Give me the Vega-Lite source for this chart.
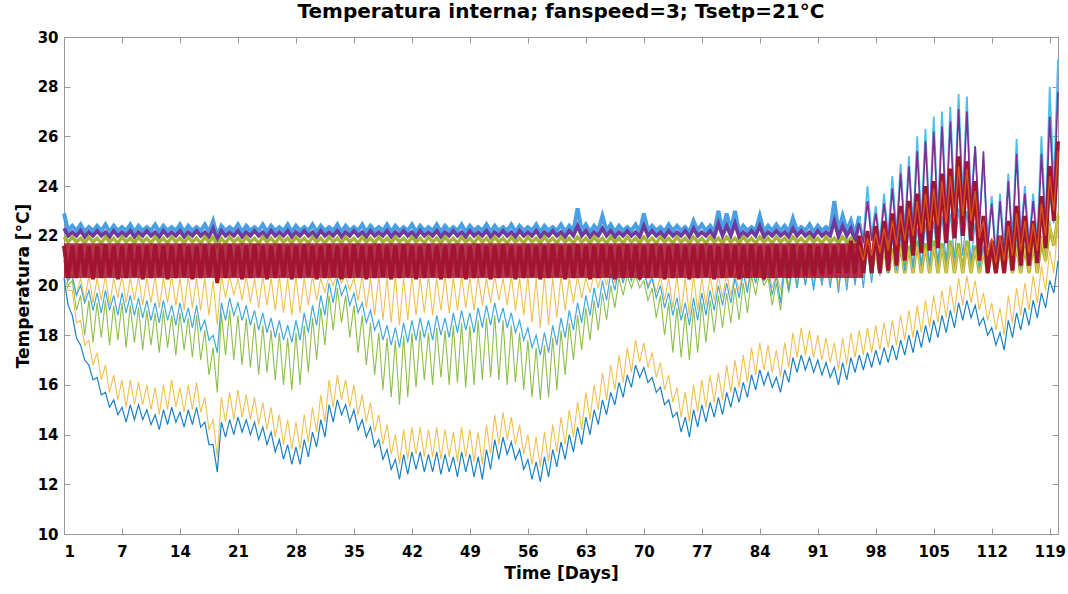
{
"$schema":"https://vega.github.io/schema/vega-lite/v6.json",
"width":994,"height":497,"autosize":"none",
"padding":{"left":64,"top":37,"right":10,"bottom":60},
"background":"white",
"title":{"text":"Temperatura interna; fanspeed=3; Tsetp=21°C","font":"DejaVu Sans","fontSize":20,"fontWeight":"bold","color":"black","offset":8},
"config":{"view":{"stroke":"#999","strokeWidth":1},"axis":{"grid":false,"domainColor":"#999","tickColor":"#999","tickSize":-6,"labelFont":"DejaVu Sans","labelFontSize":15,"labelFontWeight":"bold","labelColor":"black","titleFont":"DejaVu Sans","titleFontSize":17,"titleFontWeight":"bold","titleColor":"black"}},
"data":{"values":[
{"t":0,"c":22.9,"p":22.3,"g":21.95,"r":21.6,"y":21.0,"m":21.0,"n":21.0,"w":20.4,"b":20.3},
{"t":0.5,"c":22.2,"p":22.0,"g":21.75,"r":20.3,"y":20.3,"m":20.2,"n":20.0,"w":19.8,"b":19.2},
{"t":1,"c":22.4,"p":22.15,"g":21.95,"r":21.6,"y":20.4,"m":20.4,"n":20.2,"w":19.8,"b":18.8},
{"t":1.5,"c":22.2,"p":22.0,"g":21.75,"r":20.3,"y":19.6,"m":19.6,"n":19.0,"w":18.5,"b":17.9},
{"t":2,"c":22.45,"p":22.2,"g":21.9,"r":21.65,"y":20.3,"m":20.0,"n":19.6,"w":18.6,"b":17.6},
{"t":2.5,"c":22.15,"p":21.95,"g":21.7,"r":20.35,"y":19.4,"m":19.3,"n":18.0,"w":17.6,"b":17.0},
{"t":3,"c":22.35,"p":22.15,"g":21.95,"r":21.6,"y":20.4,"m":19.8,"n":19.4,"w":17.8,"b":16.8},
{"t":3.5,"c":22.2,"p":22.0,"g":21.75,"r":20.25,"y":19.3,"m":19.0,"n":17.7,"w":16.8,"b":16.2},
{"t":4,"c":22.4,"p":22.2,"g":21.9,"r":21.6,"y":20.3,"m":19.7,"n":19.3,"w":17.3,"b":16.3},
{"t":4.5,"c":22.2,"p":22.0,"g":21.7,"r":20.3,"y":19.4,"m":18.9,"n":17.9,"w":16.2,"b":15.6},
{"t":5,"c":22.45,"p":22.15,"g":21.95,"r":21.65,"y":20.4,"m":19.8,"n":19.4,"w":16.8,"b":15.7},
{"t":5.5,"c":22.15,"p":21.95,"g":21.75,"r":20.35,"y":19.2,"m":19.0,"n":17.6,"w":15.7,"b":15.1},
{"t":6,"c":22.4,"p":22.2,"g":21.9,"r":21.6,"y":20.3,"m":19.6,"n":19.2,"w":16.4,"b":15.4},
{"t":6.5,"c":22.2,"p":22.0,"g":21.7,"r":20.25,"y":19.5,"m":18.8,"n":17.8,"w":15.4,"b":14.8},
{"t":7,"c":22.35,"p":22.15,"g":21.95,"r":21.6,"y":20.4,"m":19.7,"n":19.3,"w":16.2,"b":15.1},
{"t":7.5,"c":22.2,"p":22.0,"g":21.75,"r":20.3,"y":19.3,"m":18.9,"n":17.5,"w":15.1,"b":14.5},
{"t":8,"c":22.45,"p":22.2,"g":21.9,"r":21.65,"y":20.3,"m":19.6,"n":19.2,"w":16.2,"b":15.2},
{"t":8.5,"c":22.15,"p":21.95,"g":21.7,"r":20.35,"y":19.4,"m":18.8,"n":17.7,"w":15.2,"b":14.6},
{"t":9,"c":22.4,"p":22.15,"g":21.95,"r":21.6,"y":20.4,"m":19.5,"n":19.1,"w":16.1,"b":15.2},
{"t":9.5,"c":22.2,"p":22.0,"g":21.75,"r":20.25,"y":19.2,"m":18.7,"n":17.4,"w":15.2,"b":14.6},
{"t":10,"c":22.35,"p":22.2,"g":21.9,"r":21.6,"y":20.3,"m":19.4,"n":19.0,"w":16.0,"b":15.0},
{"t":10.5,"c":22.2,"p":22.0,"g":21.7,"r":20.3,"y":19.3,"m":18.6,"n":17.6,"w":15.0,"b":14.4},
{"t":11,"c":22.45,"p":22.15,"g":21.95,"r":21.65,"y":20.4,"m":19.3,"n":18.9,"w":15.9,"b":14.8},
{"t":11.5,"c":22.15,"p":21.95,"g":21.75,"r":20.35,"y":19.1,"m":18.5,"n":17.3,"w":14.8,"b":14.2},
{"t":12,"c":22.4,"p":22.2,"g":21.9,"r":21.6,"y":20.3,"m":19.4,"n":19.0,"w":16.0,"b":15.0},
{"t":12.5,"c":22.2,"p":22.0,"g":21.7,"r":20.25,"y":19.3,"m":18.6,"n":17.5,"w":15.0,"b":14.4},
{"t":13,"c":22.35,"p":22.15,"g":21.95,"r":21.6,"y":20.4,"m":19.2,"n":18.8,"w":16.2,"b":15.1},
{"t":13.5,"c":22.2,"p":22.0,"g":21.75,"r":20.3,"y":19.2,"m":18.4,"n":17.2,"w":15.1,"b":14.5},
{"t":14,"c":22.45,"p":22.2,"g":21.9,"r":21.65,"y":20.3,"m":19.3,"n":18.9,"w":15.9,"b":14.9},
{"t":14.5,"c":22.15,"p":21.95,"g":21.7,"r":20.35,"y":19.0,"m":18.5,"n":17.4,"w":14.9,"b":14.3},
{"t":15,"c":22.4,"p":22.15,"g":21.95,"r":21.6,"y":20.4,"m":19.1,"n":18.7,"w":16.0,"b":15.0},
{"t":15.5,"c":22.2,"p":22.0,"g":21.75,"r":20.25,"y":19.1,"m":18.3,"n":17.1,"w":15.0,"b":14.4},
{"t":16,"c":22.35,"p":22.2,"g":21.9,"r":21.6,"y":20.3,"m":19.2,"n":18.8,"w":16.1,"b":15.1},
{"t":16.5,"c":22.2,"p":22.0,"g":21.7,"r":20.3,"y":19.0,"m":18.2,"n":17.0,"w":14.9,"b":14.3},
{"t":17,"c":22.45,"p":22.15,"g":21.95,"r":21.65,"y":20.3,"m":18.6,"n":18.2,"w":15.5,"b":14.5},
{"t":17.5,"c":22.15,"p":21.95,"g":21.75,"r":20.35,"y":18.8,"m":17.8,"n":16.4,"w":14.2,"b":13.6},
{"t":18,"c":22.6,"p":22.3,"g":21.95,"r":21.6,"y":20.2,"m":18.0,"n":17.5,"w":14.6,"b":13.6},
{"t":18.5,"c":22.0,"p":21.85,"g":21.6,"r":20.1,"y":18.4,"m":17.3,"n":15.7,"w":13.1,"b":12.5},
{"t":19,"c":22.4,"p":22.2,"g":21.9,"r":21.6,"y":20.4,"m":19.3,"n":18.9,"w":15.5,"b":14.5},
{"t":19.5,"c":22.2,"p":22.0,"g":21.7,"r":20.3,"y":19.5,"m":18.6,"n":17.2,"w":14.5,"b":13.9},
{"t":20,"c":22.35,"p":22.15,"g":21.95,"r":21.65,"y":20.4,"m":19.5,"n":19.0,"w":15.7,"b":14.6},
{"t":20.5,"c":22.2,"p":22.0,"g":21.75,"r":20.35,"y":19.6,"m":18.8,"n":17.0,"w":14.6,"b":14.0},
{"t":21,"c":22.45,"p":22.2,"g":21.9,"r":21.6,"y":20.3,"m":19.3,"n":18.8,"w":15.8,"b":14.7},
{"t":21.5,"c":22.15,"p":21.95,"g":21.7,"r":20.25,"y":19.4,"m":18.6,"n":16.8,"w":14.7,"b":14.1},
{"t":22,"c":22.4,"p":22.15,"g":21.95,"r":21.6,"y":20.4,"m":19.2,"n":18.7,"w":15.6,"b":14.6},
{"t":22.5,"c":22.2,"p":22.0,"g":21.75,"r":20.3,"y":19.3,"m":18.4,"n":16.7,"w":14.6,"b":14.0},
{"t":23,"c":22.35,"p":22.2,"g":21.9,"r":21.65,"y":20.3,"m":19.0,"n":18.5,"w":15.5,"b":14.5},
{"t":23.5,"c":22.2,"p":22.0,"g":21.7,"r":20.35,"y":19.1,"m":18.2,"n":16.4,"w":14.4,"b":13.8},
{"t":24,"c":22.45,"p":22.15,"g":21.95,"r":21.6,"y":20.4,"m":18.9,"n":18.4,"w":15.3,"b":14.3},
{"t":24.5,"c":22.15,"p":21.95,"g":21.75,"r":20.25,"y":19.2,"m":18.1,"n":16.5,"w":14.2,"b":13.6},
{"t":25,"c":22.4,"p":22.2,"g":21.9,"r":21.6,"y":20.3,"m":18.7,"n":18.2,"w":15.1,"b":14.1},
{"t":25.5,"c":22.2,"p":22.0,"g":21.7,"r":20.3,"y":19.0,"m":17.9,"n":16.2,"w":13.9,"b":13.3},
{"t":26,"c":22.35,"p":22.15,"g":21.95,"r":21.65,"y":20.4,"m":18.6,"n":18.1,"w":14.8,"b":13.8},
{"t":26.5,"c":22.2,"p":22.0,"g":21.75,"r":20.35,"y":18.9,"m":17.8,"n":16.0,"w":13.6,"b":13.0},
{"t":27,"c":22.45,"p":22.2,"g":21.9,"r":21.6,"y":20.3,"m":18.4,"n":17.9,"w":14.6,"b":13.6},
{"t":27.5,"c":22.15,"p":21.95,"g":21.7,"r":20.25,"y":18.8,"m":17.7,"n":15.8,"w":13.4,"b":12.8},
{"t":28,"c":22.4,"p":22.15,"g":21.95,"r":21.6,"y":20.4,"m":18.6,"n":18.1,"w":14.5,"b":13.5},
{"t":28.5,"c":22.2,"p":22.0,"g":21.75,"r":20.3,"y":18.9,"m":17.8,"n":16.0,"w":13.4,"b":12.8},
{"t":29,"c":22.35,"p":22.2,"g":21.9,"r":21.65,"y":20.3,"m":18.9,"n":18.4,"w":14.8,"b":13.8},
{"t":29.5,"c":22.2,"p":22.0,"g":21.7,"r":20.35,"y":19.2,"m":18.1,"n":16.5,"w":13.7,"b":13.1},
{"t":30,"c":22.45,"p":22.15,"g":21.95,"r":21.6,"y":20.4,"m":19.2,"n":18.7,"w":15.1,"b":14.1},
{"t":30.5,"c":22.15,"p":21.95,"g":21.75,"r":20.25,"y":19.4,"m":18.4,"n":17.0,"w":14.1,"b":13.5},
{"t":31,"c":22.4,"p":22.2,"g":21.9,"r":21.6,"y":20.3,"m":19.6,"n":19.1,"w":15.6,"b":14.6},
{"t":31.5,"c":22.2,"p":22.0,"g":21.7,"r":20.3,"y":19.7,"m":18.8,"n":17.6,"w":14.5,"b":13.9},
{"t":32,"c":22.35,"p":22.15,"g":21.95,"r":21.65,"y":20.4,"m":20.1,"n":19.6,"w":16.2,"b":15.2},
{"t":32.5,"c":22.2,"p":22.0,"g":21.75,"r":20.35,"y":20.0,"m":19.3,"n":18.2,"w":15.1,"b":14.5},
{"t":33,"c":22.45,"p":22.2,"g":21.9,"r":21.6,"y":20.5,"m":20.3,"n":19.9,"w":16.4,"b":15.4},
{"t":33.5,"c":22.15,"p":21.95,"g":21.7,"r":20.25,"y":20.1,"m":19.6,"n":18.5,"w":15.4,"b":14.8},
{"t":34,"c":22.4,"p":22.15,"g":21.95,"r":21.6,"y":20.4,"m":20.0,"n":19.6,"w":16.2,"b":15.2},
{"t":34.5,"c":22.2,"p":22.0,"g":21.75,"r":20.3,"y":19.8,"m":19.2,"n":17.9,"w":15.1,"b":14.5},
{"t":35,"c":22.35,"p":22.2,"g":21.9,"r":21.65,"y":20.3,"m":19.7,"n":19.2,"w":16.0,"b":15.0},
{"t":35.5,"c":22.2,"p":22.0,"g":21.7,"r":20.35,"y":19.4,"m":18.9,"n":17.3,"w":14.8,"b":14.2},
{"t":36,"c":22.45,"p":22.15,"g":21.95,"r":21.6,"y":20.4,"m":19.3,"n":18.8,"w":15.6,"b":14.6},
{"t":36.5,"c":22.15,"p":21.95,"g":21.75,"r":20.25,"y":19.1,"m":18.5,"n":16.8,"w":14.5,"b":13.9},
{"t":37,"c":22.4,"p":22.2,"g":21.9,"r":21.6,"y":20.3,"m":19.0,"n":18.5,"w":15.3,"b":14.3},
{"t":37.5,"c":22.2,"p":22.0,"g":21.7,"r":20.3,"y":18.8,"m":18.2,"n":16.4,"w":14.1,"b":13.5},
{"t":38,"c":22.35,"p":22.15,"g":21.95,"r":21.65,"y":20.4,"m":18.6,"n":18.1,"w":14.8,"b":13.8},
{"t":38.5,"c":22.2,"p":22.0,"g":21.75,"r":20.35,"y":18.6,"m":17.8,"n":15.8,"w":13.6,"b":13.0},
{"t":39,"c":22.45,"p":22.2,"g":21.9,"r":21.6,"y":20.3,"m":18.4,"n":17.9,"w":14.4,"b":13.4},
{"t":39.5,"c":22.15,"p":21.95,"g":21.7,"r":20.25,"y":18.5,"m":17.6,"n":15.5,"w":13.2,"b":12.6},
{"t":40,"c":22.4,"p":22.15,"g":21.95,"r":21.6,"y":20.4,"m":18.3,"n":17.8,"w":14.0,"b":13.0},
{"t":40.5,"c":22.2,"p":22.0,"g":21.75,"r":20.3,"y":18.4,"m":17.5,"n":15.2,"w":12.8,"b":12.2},
{"t":41,"c":22.35,"p":22.2,"g":21.9,"r":21.65,"y":20.3,"m":18.5,"n":18.0,"w":14.2,"b":13.2},
{"t":41.5,"c":22.2,"p":22.0,"g":21.7,"r":20.35,"y":18.6,"m":17.7,"n":15.5,"w":13.0,"b":12.4},
{"t":42,"c":22.45,"p":22.15,"g":21.95,"r":21.6,"y":20.4,"m":18.6,"n":18.1,"w":14.3,"b":13.3},
{"t":42.5,"c":22.15,"p":21.95,"g":21.75,"r":20.25,"y":18.8,"m":17.8,"n":15.9,"w":13.2,"b":12.6},
{"t":43,"c":22.4,"p":22.2,"g":21.9,"r":21.6,"y":20.3,"m":18.7,"n":18.2,"w":14.3,"b":13.3},
{"t":43.5,"c":22.2,"p":22.0,"g":21.7,"r":20.3,"y":18.9,"m":17.9,"n":16.2,"w":13.1,"b":12.5},
{"t":44,"c":22.35,"p":22.15,"g":21.95,"r":21.65,"y":20.4,"m":18.6,"n":18.1,"w":14.2,"b":13.2},
{"t":44.5,"c":22.2,"p":22.0,"g":21.75,"r":20.35,"y":18.8,"m":17.8,"n":16.0,"w":13.1,"b":12.5},
{"t":45,"c":22.45,"p":22.2,"g":21.9,"r":21.6,"y":20.3,"m":18.8,"n":18.3,"w":14.3,"b":13.3},
{"t":45.5,"c":22.15,"p":21.95,"g":21.7,"r":20.25,"y":19.0,"m":18.0,"n":16.3,"w":13.0,"b":12.4},
{"t":46,"c":22.4,"p":22.15,"g":21.95,"r":21.6,"y":20.4,"m":18.7,"n":18.2,"w":14.2,"b":13.2},
{"t":46.5,"c":22.2,"p":22.0,"g":21.75,"r":20.3,"y":18.9,"m":17.9,"n":16.0,"w":13.1,"b":12.5},
{"t":47,"c":22.35,"p":22.2,"g":21.9,"r":21.65,"y":20.3,"m":18.9,"n":18.4,"w":14.1,"b":13.1},
{"t":47.5,"c":22.2,"p":22.0,"g":21.7,"r":20.35,"y":19.0,"m":18.1,"n":16.1,"w":12.9,"b":12.3},
{"t":48,"c":22.45,"p":22.15,"g":21.95,"r":21.6,"y":20.4,"m":19.0,"n":18.5,"w":14.3,"b":13.3},
{"t":48.5,"c":22.15,"p":21.95,"g":21.75,"r":20.25,"y":19.1,"m":18.2,"n":15.9,"w":13.1,"b":12.5},
{"t":49,"c":22.4,"p":22.2,"g":21.9,"r":21.6,"y":20.3,"m":18.9,"n":18.4,"w":14.2,"b":13.2},
{"t":49.5,"c":22.2,"p":22.0,"g":21.7,"r":20.3,"y":19.0,"m":18.1,"n":16.0,"w":12.9,"b":12.3},
{"t":50,"c":22.35,"p":22.15,"g":21.95,"r":21.65,"y":20.4,"m":19.1,"n":18.6,"w":14.1,"b":13.1},
{"t":50.5,"c":22.2,"p":22.0,"g":21.75,"r":20.35,"y":19.2,"m":18.3,"n":16.2,"w":12.8,"b":12.2},
{"t":51,"c":22.45,"p":22.2,"g":21.9,"r":21.6,"y":20.3,"m":19.2,"n":18.7,"w":14.4,"b":13.4},
{"t":51.5,"c":22.15,"p":21.95,"g":21.7,"r":20.25,"y":19.3,"m":18.4,"n":16.3,"w":13.2,"b":12.6},
{"t":52,"c":22.4,"p":22.15,"g":21.95,"r":21.6,"y":20.4,"m":19.3,"n":18.8,"w":14.8,"b":13.8},
{"t":52.5,"c":22.2,"p":22.0,"g":21.75,"r":20.3,"y":19.4,"m":18.5,"n":16.2,"w":13.6,"b":13.0},
{"t":53,"c":22.35,"p":22.2,"g":21.9,"r":21.65,"y":20.3,"m":19.1,"n":18.6,"w":14.9,"b":13.9},
{"t":53.5,"c":22.2,"p":22.0,"g":21.7,"r":20.35,"y":19.2,"m":18.3,"n":16.0,"w":13.8,"b":13.2},
{"t":54,"c":22.45,"p":22.15,"g":21.95,"r":21.6,"y":20.4,"m":18.9,"n":18.4,"w":14.7,"b":13.7},
{"t":54.5,"c":22.15,"p":21.95,"g":21.75,"r":20.25,"y":19.0,"m":18.1,"n":16.1,"w":13.6,"b":13.0},
{"t":55,"c":22.4,"p":22.2,"g":21.9,"r":21.6,"y":20.3,"m":18.6,"n":18.1,"w":14.4,"b":13.4},
{"t":55.5,"c":22.2,"p":22.0,"g":21.7,"r":20.3,"y":18.8,"m":17.8,"n":15.8,"w":13.2,"b":12.6},
{"t":56,"c":22.35,"p":22.15,"g":21.95,"r":21.65,"y":20.4,"m":18.3,"n":17.8,"w":14.0,"b":13.0},
{"t":56.5,"c":22.2,"p":22.0,"g":21.75,"r":20.35,"y":18.5,"m":17.5,"n":15.5,"w":12.8,"b":12.2},
{"t":57,"c":22.45,"p":22.2,"g":21.9,"r":21.6,"y":20.3,"m":18.0,"n":17.5,"w":13.9,"b":12.9},
{"t":57.5,"c":22.15,"p":21.95,"g":21.7,"r":20.25,"y":18.3,"m":17.2,"n":15.4,"w":12.7,"b":12.1},
{"t":58,"c":22.4,"p":22.15,"g":21.95,"r":21.6,"y":20.4,"m":18.1,"n":17.6,"w":14.1,"b":13.1},
{"t":58.5,"c":22.2,"p":22.0,"g":21.75,"r":20.3,"y":18.4,"m":17.3,"n":15.5,"w":12.9,"b":12.3},
{"t":59,"c":22.35,"p":22.2,"g":21.9,"r":21.65,"y":20.3,"m":18.4,"n":17.9,"w":14.4,"b":13.4},
{"t":59.5,"c":22.2,"p":22.0,"g":21.7,"r":20.35,"y":18.7,"m":17.6,"n":15.8,"w":13.3,"b":12.7},
{"t":60,"c":22.45,"p":22.15,"g":21.95,"r":21.6,"y":20.4,"m":18.7,"n":18.2,"w":14.7,"b":13.7},
{"t":60.5,"c":22.15,"p":21.95,"g":21.75,"r":20.25,"y":19.0,"m":17.9,"n":16.4,"w":13.6,"b":13.0},
{"t":61,"c":22.4,"p":22.2,"g":21.9,"r":21.6,"y":20.3,"m":19.0,"n":18.5,"w":15.0,"b":14.0},
{"t":61.5,"c":22.2,"p":22.0,"g":21.7,"r":20.3,"y":19.3,"m":18.2,"n":17.0,"w":13.9,"b":13.3},
{"t":62,"c":23.1,"p":22.4,"g":21.95,"r":21.65,"y":20.4,"m":19.3,"n":18.8,"w":15.3,"b":14.3},
{"t":62.5,"c":22.2,"p":22.0,"g":21.75,"r":20.35,"y":19.5,"m":18.5,"n":17.4,"w":14.2,"b":13.6},
{"t":63,"c":22.45,"p":22.2,"g":21.9,"r":21.6,"y":20.3,"m":19.6,"n":19.1,"w":15.7,"b":14.7},
{"t":63.5,"c":22.15,"p":21.95,"g":21.7,"r":20.25,"y":19.7,"m":18.8,"n":17.8,"w":14.6,"b":14.0},
{"t":64,"c":22.4,"p":22.15,"g":21.95,"r":21.6,"y":20.5,"m":19.9,"n":19.4,"w":16.0,"b":15.0},
{"t":64.5,"c":22.2,"p":22.0,"g":21.75,"r":20.3,"y":19.9,"m":19.1,"n":18.2,"w":15.0,"b":14.4},
{"t":65,"c":22.8,"p":22.3,"g":21.9,"r":21.65,"y":20.6,"m":20.2,"n":19.7,"w":16.5,"b":15.4},
{"t":65.5,"c":22.2,"p":22.0,"g":21.7,"r":20.35,"y":20.0,"m":19.4,"n":18.6,"w":15.4,"b":14.8},
{"t":66,"c":22.45,"p":22.2,"g":21.95,"r":21.6,"y":20.8,"m":20.5,"n":20.0,"w":16.8,"b":15.7},
{"t":66.5,"c":22.15,"p":21.95,"g":21.75,"r":20.25,"y":20.1,"m":19.8,"n":19.1,"w":15.8,"b":15.2},
{"t":67,"c":22.4,"p":22.15,"g":21.9,"r":21.6,"y":20.8,"m":20.7,"n":20.3,"w":17.2,"b":16.1},
{"t":67.5,"c":22.2,"p":22.0,"g":21.7,"r":20.3,"y":20.2,"m":20.1,"n":19.6,"w":16.1,"b":15.5},
{"t":68,"c":22.35,"p":22.2,"g":21.95,"r":21.65,"y":20.8,"m":20.8,"n":20.4,"w":17.5,"b":16.4},
{"t":68.5,"c":22.2,"p":22.0,"g":21.75,"r":20.35,"y":20.2,"m":20.2,"n":19.9,"w":16.5,"b":15.9},
{"t":69,"c":22.45,"p":22.15,"g":21.9,"r":21.6,"y":20.8,"m":20.8,"n":20.4,"w":17.8,"b":16.8},
{"t":69.5,"c":22.15,"p":21.95,"g":21.7,"r":20.25,"y":20.2,"m":20.2,"n":19.9,"w":16.9,"b":16.3},
{"t":70,"c":22.9,"p":22.4,"g":21.95,"r":21.6,"y":20.6,"m":20.6,"n":20.2,"w":17.7,"b":16.7},
{"t":70.5,"c":22.2,"p":22.0,"g":21.75,"r":20.3,"y":20.0,"m":19.9,"n":19.4,"w":16.7,"b":16.1},
{"t":71,"c":22.4,"p":22.2,"g":21.9,"r":21.65,"y":20.4,"m":20.3,"n":19.9,"w":17.3,"b":16.3},
{"t":71.5,"c":22.2,"p":22.0,"g":21.7,"r":20.35,"y":19.7,"m":19.5,"n":18.7,"w":16.3,"b":15.7},
{"t":72,"c":22.35,"p":22.15,"g":21.95,"r":21.6,"y":20.4,"m":20.0,"n":19.6,"w":16.9,"b":15.9},
{"t":72.5,"c":22.15,"p":21.95,"g":21.75,"r":20.25,"y":19.4,"m":19.1,"n":18.0,"w":15.8,"b":15.2},
{"t":73,"c":22.45,"p":22.2,"g":21.9,"r":21.6,"y":20.3,"m":19.7,"n":19.3,"w":16.4,"b":15.4},
{"t":73.5,"c":22.2,"p":22.0,"g":21.7,"r":20.3,"y":19.1,"m":18.8,"n":17.3,"w":15.3,"b":14.7},
{"t":74,"c":22.4,"p":22.15,"g":21.95,"r":21.65,"y":20.4,"m":19.5,"n":19.1,"w":15.9,"b":14.9},
{"t":74.5,"c":22.2,"p":22.0,"g":21.75,"r":20.35,"y":18.9,"m":18.6,"n":17.1,"w":14.7,"b":14.1},
{"t":75,"c":22.35,"p":22.2,"g":21.9,"r":21.6,"y":20.3,"m":19.3,"n":18.9,"w":15.7,"b":14.7},
{"t":75.5,"c":22.15,"p":21.95,"g":21.7,"r":20.25,"y":18.8,"m":18.4,"n":17.0,"w":14.5,"b":13.9},
{"t":76,"c":22.6,"p":22.3,"g":21.95,"r":21.6,"y":20.4,"m":19.5,"n":19.1,"w":16.0,"b":15.0},
{"t":76.5,"c":22.2,"p":22.0,"g":21.75,"r":20.3,"y":19.0,"m":18.6,"n":17.3,"w":14.9,"b":14.3},
{"t":77,"c":22.45,"p":22.15,"g":21.9,"r":21.65,"y":20.3,"m":19.7,"n":19.3,"w":16.2,"b":15.2},
{"t":77.5,"c":22.2,"p":22.0,"g":21.7,"r":20.35,"y":19.2,"m":18.8,"n":17.7,"w":15.1,"b":14.5},
{"t":78,"c":22.4,"p":22.2,"g":21.95,"r":21.6,"y":20.4,"m":19.8,"n":19.4,"w":16.4,"b":15.3},
{"t":78.5,"c":22.15,"p":21.95,"g":21.75,"r":20.25,"y":19.4,"m":19.0,"n":18.1,"w":15.3,"b":14.7},
{"t":79,"c":23.0,"p":22.5,"g":21.9,"r":21.6,"y":20.4,"m":20.0,"n":19.6,"w":16.5,"b":15.5},
{"t":79.5,"c":22.2,"p":22.0,"g":21.7,"r":20.3,"y":19.5,"m":19.2,"n":18.3,"w":15.4,"b":14.8},
{"t":80,"c":22.9,"p":22.4,"g":21.95,"r":21.65,"y":20.5,"m":20.1,"n":19.7,"w":16.8,"b":15.7},
{"t":80.5,"c":22.2,"p":22.0,"g":21.75,"r":20.35,"y":19.6,"m":19.3,"n":18.5,"w":15.7,"b":15.1},
{"t":81,"c":23.0,"p":22.5,"g":21.9,"r":21.6,"y":20.5,"m":20.3,"n":19.9,"w":17.0,"b":15.9},
{"t":81.5,"c":22.15,"p":21.95,"g":21.7,"r":20.25,"y":19.8,"m":19.5,"n":18.6,"w":15.9,"b":15.3},
{"t":82,"c":22.4,"p":22.15,"g":21.95,"r":21.6,"y":20.6,"m":20.5,"n":20.1,"w":17.2,"b":16.1},
{"t":82.5,"c":22.2,"p":22.0,"g":21.75,"r":20.3,"y":19.9,"m":19.7,"n":18.9,"w":16.1,"b":15.5},
{"t":83,"c":22.35,"p":22.2,"g":21.9,"r":21.65,"y":20.7,"m":20.8,"n":20.4,"w":17.5,"b":16.4},
{"t":83.5,"c":22.2,"p":22.0,"g":21.7,"r":20.35,"y":20.1,"m":20.1,"n":19.6,"w":16.4,"b":15.8},
{"t":84,"c":22.8,"p":22.4,"g":21.95,"r":21.6,"y":20.7,"m":20.9,"n":20.6,"w":17.7,"b":16.6},
{"t":84.5,"c":22.15,"p":21.95,"g":21.75,"r":20.25,"y":20.2,"m":20.2,"n":20.0,"w":16.6,"b":16.0},
{"t":85,"c":22.4,"p":22.15,"g":21.9,"r":21.6,"y":20.6,"m":20.6,"n":20.3,"w":17.6,"b":16.5},
{"t":85.5,"c":22.2,"p":22.0,"g":21.7,"r":20.3,"y":19.9,"m":19.6,"n":19.2,"w":16.5,"b":15.9},
{"t":86,"c":22.45,"p":22.2,"g":21.95,"r":21.65,"y":20.5,"m":20.4,"n":20.1,"w":17.4,"b":16.3},
{"t":86.5,"c":22.2,"p":22.0,"g":21.75,"r":20.35,"y":19.8,"m":19.3,"n":19.0,"w":16.3,"b":15.7},
{"t":87,"c":22.4,"p":22.15,"g":21.9,"r":21.6,"y":20.8,"m":20.9,"n":20.6,"w":17.7,"b":16.6},
{"t":87.5,"c":22.15,"p":21.95,"g":21.7,"r":20.3,"y":20.0,"m":19.8,"n":19.7,"w":16.7,"b":16.1},
{"t":88,"c":22.7,"p":22.3,"g":21.95,"r":21.65,"y":20.9,"m":21.0,"n":20.8,"w":18.1,"b":17.1},
{"t":88.5,"c":22.2,"p":22.0,"g":21.75,"r":20.35,"y":20.1,"m":19.9,"n":19.9,"w":17.1,"b":16.5},
{"t":89,"c":22.35,"p":22.2,"g":21.9,"r":21.6,"y":20.9,"m":21.1,"n":20.9,"w":18.3,"b":17.2},
{"t":89.5,"c":22.2,"p":22.0,"g":21.7,"r":20.4,"y":20.0,"m":20.0,"n":20.1,"w":17.2,"b":16.6},
{"t":90,"c":22.45,"p":22.15,"g":21.95,"r":21.65,"y":21.0,"m":21.0,"n":20.8,"w":18.2,"b":17.1},
{"t":90.5,"c":22.15,"p":21.95,"g":21.75,"r":20.4,"y":20.1,"m":19.8,"n":20.0,"w":17.1,"b":16.5},
{"t":91,"c":22.4,"p":22.2,"g":21.9,"r":21.6,"y":21.0,"m":21.1,"n":20.9,"w":18.0,"b":17.0},
{"t":91.5,"c":22.2,"p":22.0,"g":21.7,"r":20.45,"y":20.0,"m":20.0,"n":20.2,"w":17.0,"b":16.4},
{"t":92,"c":22.35,"p":22.15,"g":21.95,"r":21.65,"y":21.1,"m":21.2,"n":21.0,"w":17.9,"b":16.9},
{"t":92.5,"c":22.2,"p":22.0,"g":21.75,"r":20.45,"y":20.1,"m":19.9,"n":20.1,"w":16.9,"b":16.3},
{"t":93,"c":23.4,"p":22.6,"g":21.9,"r":21.6,"y":21.0,"m":21.1,"n":20.9,"w":17.7,"b":16.7},
{"t":93.5,"c":22.15,"p":21.95,"g":21.7,"r":20.5,"y":20.0,"m":19.7,"n":20.0,"w":16.6,"b":16.0},
{"t":94,"c":22.8,"p":22.4,"g":21.95,"r":21.65,"y":21.1,"m":21.2,"n":21.0,"w":17.9,"b":16.9},
{"t":94.5,"c":22.2,"p":22.0,"g":21.75,"r":20.5,"y":20.1,"m":19.8,"n":20.2,"w":16.8,"b":16.2},
{"t":95,"c":22.6,"p":22.3,"g":21.9,"r":21.8,"y":21.1,"m":21.3,"n":21.1,"w":18.1,"b":17.1},
{"t":95.5,"c":22.0,"p":21.8,"g":21.6,"r":20.5,"y":20.2,"m":20.0,"n":20.3,"w":17.1,"b":16.5},
{"t":96,"c":22.8,"p":22.5,"g":21.8,"r":22.0,"o":21.6,"y":21.2,"m":21.4,"n":21.2,"w":18.2,"b":17.2},
{"t":96.5,"c":21.9,"p":21.7,"g":21.3,"r":20.5,"o":21.0,"y":20.3,"m":19.9,"n":20.4,"w":17.2,"b":16.6},
{"t":97,"c":24.0,"p":23.4,"g":21.6,"r":22.2,"o":21.9,"y":21.3,"m":21.5,"n":21.3,"w":18.3,"b":17.3},
{"t":97.5,"c":22.0,"p":21.8,"g":20.5,"r":20.5,"o":21.2,"y":20.4,"m":20.1,"n":20.5,"w":17.3,"b":16.7},
{"t":98,"c":23.2,"p":22.9,"g":21.5,"r":22.4,"o":22.1,"y":21.3,"m":21.6,"n":21.4,"w":18.4,"b":17.4},
{"t":98.5,"c":21.8,"p":21.6,"g":20.5,"r":20.5,"o":21.3,"y":20.5,"m":20.4,"n":20.5,"w":17.4,"b":16.8},
{"t":99,"c":23.7,"p":23.3,"g":21.6,"r":22.6,"o":22.3,"y":21.4,"m":21.7,"n":21.5,"w":18.5,"b":17.5},
{"t":99.5,"c":22.0,"p":21.8,"g":20.5,"r":20.6,"o":21.4,"y":20.5,"m":20.5,"n":20.5,"w":17.5,"b":16.9},
{"t":100,"c":24.4,"p":23.9,"g":21.5,"r":22.9,"o":22.6,"y":21.3,"m":21.9,"n":21.4,"w":18.6,"b":17.6},
{"t":100.5,"c":22.1,"p":21.9,"g":20.5,"r":20.8,"o":21.6,"y":20.5,"m":20.6,"n":20.5,"w":17.6,"b":17.0},
{"t":101,"c":24.9,"p":24.5,"g":21.7,"r":23.2,"o":22.9,"y":21.5,"m":22.0,"n":21.6,"w":18.8,"b":17.8},
{"t":101.5,"c":22.2,"p":22.0,"g":20.5,"r":21.0,"o":21.8,"y":20.5,"m":20.6,"n":20.5,"w":17.8,"b":17.2},
{"t":102,"c":25.2,"p":24.8,"g":21.6,"r":23.4,"o":23.1,"y":21.4,"m":22.2,"n":21.5,"w":19.0,"b":18.0},
{"t":102.5,"c":22.3,"p":22.1,"g":20.5,"r":21.2,"o":22.0,"y":20.5,"m":20.7,"n":20.5,"w":17.9,"b":17.3},
{"t":103,"c":26.0,"p":25.4,"g":21.8,"r":23.7,"o":23.4,"y":21.6,"m":22.3,"n":21.7,"w":19.2,"b":18.2},
{"t":103.5,"c":22.5,"p":22.2,"g":20.5,"r":21.3,"o":22.1,"y":20.5,"m":20.8,"n":20.5,"w":18.1,"b":17.5},
{"t":104,"c":26.3,"p":25.8,"g":21.7,"r":24.0,"o":23.7,"y":21.5,"m":22.5,"n":21.6,"w":19.4,"b":18.4},
{"t":104.5,"c":22.6,"p":22.4,"g":20.5,"r":21.4,"o":22.2,"y":20.5,"m":20.8,"n":20.5,"w":18.3,"b":17.7},
{"t":105,"c":26.8,"p":26.2,"g":21.8,"r":24.2,"o":23.9,"y":21.6,"m":22.6,"n":21.8,"w":19.6,"b":18.6},
{"t":105.5,"c":22.8,"p":22.5,"g":20.5,"r":21.5,"o":22.4,"y":20.5,"m":20.9,"n":20.5,"w":18.5,"b":17.9},
{"t":106,"c":27.0,"p":26.4,"g":21.7,"r":24.5,"o":24.2,"y":21.5,"m":22.8,"n":21.7,"w":19.8,"b":18.8},
{"t":106.5,"c":23.0,"p":22.7,"g":20.5,"r":21.7,"o":22.5,"y":20.5,"m":21.0,"n":20.5,"w":18.7,"b":18.1},
{"t":107,"c":27.2,"p":26.6,"g":21.8,"r":24.7,"o":24.4,"y":21.6,"m":22.9,"n":21.8,"w":20.0,"b":19.0},
{"t":107.5,"c":23.2,"p":22.9,"g":20.5,"r":21.9,"o":22.7,"y":20.5,"m":21.1,"n":20.5,"w":18.9,"b":18.3},
{"t":108,"c":27.7,"p":27.1,"g":21.7,"r":25.2,"o":24.8,"y":21.5,"m":23.1,"n":21.7,"w":20.3,"b":19.3},
{"t":108.5,"c":23.5,"p":23.1,"g":20.5,"r":22.0,"o":22.8,"y":20.5,"m":21.2,"n":20.5,"w":19.2,"b":18.6},
{"t":109,"c":27.6,"p":27.0,"g":21.8,"r":25.0,"o":24.7,"y":21.6,"m":23.0,"n":21.8,"w":20.4,"b":19.4},
{"t":109.5,"c":23.3,"p":23.0,"g":20.5,"r":21.8,"o":22.6,"y":20.5,"m":21.0,"n":20.5,"w":19.3,"b":18.7},
{"t":110,"c":25.6,"p":25.6,"g":21.6,"r":24.2,"o":23.8,"y":21.4,"m":22.5,"n":21.6,"w":20.2,"b":19.2},
{"t":110.5,"c":22.6,"p":22.3,"g":20.5,"r":21.0,"o":21.9,"y":20.5,"m":20.7,"n":20.5,"w":19.0,"b":18.4},
{"t":111,"c":25.0,"p":25.4,"g":21.5,"r":22.8,"o":22.6,"y":21.3,"m":21.6,"n":21.5,"w":19.7,"b":18.7},
{"t":111.5,"c":21.8,"p":21.5,"g":20.5,"r":20.5,"o":21.2,"y":20.5,"m":20.5,"n":20.5,"w":18.6,"b":18.0},
{"t":112,"c":23.6,"p":23.3,"g":21.4,"r":21.8,"o":21.9,"y":21.2,"m":21.3,"n":21.4,"w":19.3,"b":18.3},
{"t":112.5,"c":21.3,"p":21.0,"g":20.5,"r":20.5,"o":20.9,"y":20.5,"m":20.5,"n":20.5,"w":18.2,"b":17.6},
{"t":113,"c":23.7,"p":23.4,"g":21.5,"r":22.0,"o":22.0,"y":21.3,"m":21.4,"n":21.5,"w":19.1,"b":18.1},
{"t":113.5,"c":21.5,"p":21.2,"g":20.5,"r":20.5,"o":21.0,"y":20.5,"m":20.5,"n":20.5,"w":18.0,"b":17.4},
{"t":114,"c":24.5,"p":24.2,"g":21.6,"r":22.6,"o":22.4,"y":21.4,"m":21.8,"n":21.6,"w":19.6,"b":18.6},
{"t":114.5,"c":21.8,"p":21.5,"g":20.5,"r":20.6,"o":21.2,"y":20.5,"m":20.6,"n":20.5,"w":18.5,"b":17.9},
{"t":115,"c":25.9,"p":25.3,"g":21.7,"r":23.2,"o":22.9,"y":21.5,"m":22.0,"n":21.7,"w":19.9,"b":18.9},
{"t":115.5,"c":22.0,"p":21.8,"g":20.5,"r":20.8,"o":21.4,"y":20.5,"m":20.7,"n":20.5,"w":18.8,"b":18.2},
{"t":116,"c":24.0,"p":23.7,"g":21.6,"r":22.8,"o":22.6,"y":21.5,"m":22.1,"n":21.6,"w":20.1,"b":19.1},
{"t":116.5,"c":21.7,"p":21.5,"g":20.5,"r":20.8,"o":21.3,"y":20.5,"m":20.8,"n":20.5,"w":19.0,"b":18.4},
{"t":117,"c":23.7,"p":23.4,"g":21.7,"r":22.6,"o":22.5,"y":21.6,"m":22.3,"n":21.7,"w":20.4,"b":19.4},
{"t":117.5,"c":21.8,"p":21.5,"g":20.5,"r":20.9,"o":21.4,"y":20.5,"m":21.0,"n":20.5,"w":19.3,"b":18.7},
{"t":118,"c":26.0,"p":25.3,"g":21.8,"r":23.6,"o":23.3,"y":21.9,"m":22.8,"n":22.0,"w":20.8,"b":19.7},
{"t":118.5,"c":22.5,"p":22.2,"g":21.0,"r":21.5,"o":22.0,"y":20.9,"m":21.6,"n":21.0,"w":19.8,"b":19.1},
{"t":119,"c":28.0,"p":26.8,"g":22.3,"r":24.8,"o":24.4,"y":22.4,"m":23.6,"n":22.6,"w":21.4,"b":20.2},
{"t":119.5,"c":24.0,"p":23.4,"g":21.6,"r":22.6,"o":23.0,"y":21.6,"m":22.5,"n":21.6,"w":20.5,"b":19.7},
{"t":120,"c":29.1,"p":27.8,"g":22.8,"r":25.8,"o":25.4,"y":23.0,"m":24.5,"n":23.0,"w":22.5,"b":21.0}
]},
"transform":[{"fold":["c","p","g","n","m","y","w","b","r","o"],"as":["k","v"]},{"filter":"isValid(datum.v)"}],
"encoding":{
"x":{"field":"t","type":"quantitative","scale":{"domain":[0,120],"nice":false,"zero":false},"axis":null},
"y":{"field":"v","type":"quantitative","scale":{"domain":[10,30],"nice":false,"zero":false},"axis":null}
},
"layer":[
{"transform":[{"filter":"datum.k=='c' && datum.t<=96"}],"mark":{"type":"line","color":"#4A9FE2","strokeWidth":4},
"encoding":{
"x":{"field":"t","type":"quantitative","scale":{"domain":[0,120],"nice":false,"zero":false},"axis":{"orient":"bottom","values":[0,7,14,21,28,35,42,49,56,63,70,77,84,91,98,105,112,119],"labelExpr":"datum.value==0?'1':datum.label","title":"Time [Days]","labelPadding":16,"titlePadding":6}},
"y":{"field":"v","type":"quantitative","scale":{"domain":[10,30],"nice":false,"zero":false},"axis":{"orient":"left","values":[10,12,14,16,18,20,22,24,26,28,30],"title":"Temperatura [°C]","labelPadding":12,"titlePadding":5}}}},
{"transform":[{"filter":"datum.k=='p' && datum.t<=96"}],"mark":{"type":"line","color":"#6E3A9E","strokeWidth":3.6},
"encoding":{
"x":{"field":"t","type":"quantitative","scale":{"domain":[0,120],"nice":false,"zero":false},"axis":{"orient":"top","values":[0,7,14,21,28,35,42,49,56,63,70,77,84,91,98,105,112,119],"labels":false,"title":null,"domain":false}},
"y":{"field":"v","type":"quantitative","scale":{"domain":[10,30],"nice":false,"zero":false},"axis":{"orient":"right","values":[10,12,14,16,18,20,22,24,26,28,30],"labels":false,"title":null,"domain":false}}}},
{"transform":[{"filter":"datum.k=='c' && datum.t>=96"}],"mark":{"type":"line","color":"#4DBEEE","strokeWidth":1.8}},
{"transform":[{"filter":"datum.k=='p' && datum.t>=96"}],"mark":{"type":"line","color":"#7E2F8E","strokeWidth":1.6}},
{"transform":[{"filter":"datum.k=='g'"}],"mark":{"type":"line","color":"#A4B535","strokeWidth":3.4}},
{"transform":[{"filter":"datum.k=='n'"}],"mark":{"type":"line","color":"#8DBF4A","strokeWidth":1.1}},
{"transform":[{"filter":"datum.k=='y'"}],"mark":{"type":"line","color":"#F0C050","strokeWidth":1.1}},
{"transform":[{"filter":"datum.k=='m'"}],"mark":{"type":"line","color":"#3FA8DF","strokeWidth":1.2}},
{"transform":[{"filter":"datum.k=='w'"}],"mark":{"type":"line","color":"#F0C050","strokeWidth":1.1}},
{"transform":[{"filter":"datum.k=='b'"}],"mark":{"type":"line","color":"#1A80C4","strokeWidth":1.2}},
{"transform":[{"filter":"datum.k=='r' && datum.t<=96.5"}],"mark":{"type":"area","color":"#A2142F","opacity":0.85},"encoding":{"y2":{"datum":20.3}}},
{"transform":[{"filter":"datum.k=='r' && datum.t<=96.5"}],"mark":{"type":"area","color":"#A2142F","opacity":0.85},"encoding":{"y2":{"datum":21.7}}},
{"transform":[{"filter":"datum.k=='r'"}],"mark":{"type":"line","color":"#A2142F","strokeWidth":4}},
{"transform":[{"filter":"datum.k=='o'"}],"mark":{"type":"line","color":"#D95319","strokeWidth":1.4}}
],
"resolve":{"axis":{"x":"independent","y":"independent"}}
}
